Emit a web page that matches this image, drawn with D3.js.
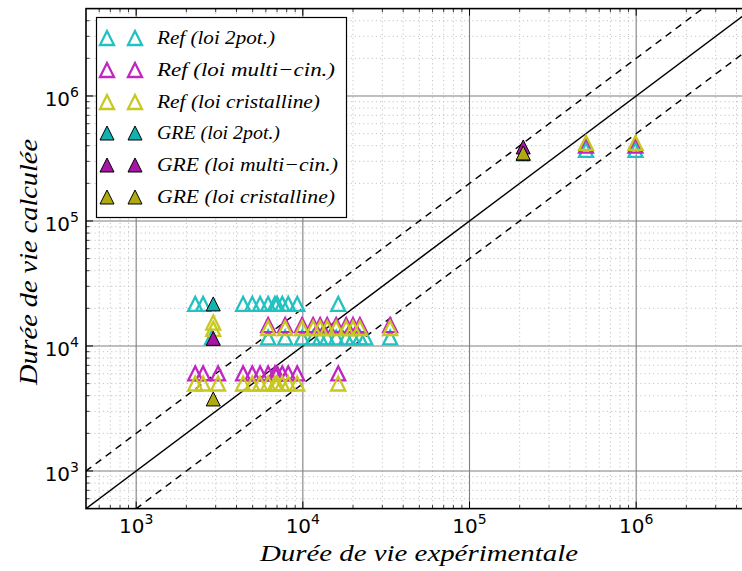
<!DOCTYPE html>
<html><head><meta charset="utf-8">
<script src="https://cdn.jsdelivr.net/npm/d3@7"></script>
<style>body{margin:0;background:#fff} svg{display:block}</style>
</head><body>
<svg id="c" width="742" height="571"></svg>
<script>
// ---- data ----
const xDomain = [500, 5e6];
const yDomain = [500, 5e6];
const tickValues = [1e3, 1e4, 1e5, 1e6];
const tickExponents = ["3", "4", "5", "6"];

const legendLabels = [
  "Ref (loi 2pot.)", "Ref (loi multi\u2212cin.)", "Ref (loi cristalline)",
  "GRE (loi 2pot.)", "GRE (loi multi\u2212cin.)", "GRE (loi cristalline)"
];

// Ref, loi 2pot.
const ref2potX = [2260, 2520, 4380, 4970, 5540, 6190, 6800, 7010, 7520, 8170, 9250, 16300,
                  2850, 6190, 7830, 9900, 11530, 12700, 14000, 15850, 18200, 20000, 22000, 23700, 33400,
                  500000, 990000];
const ref2potY = [21700, 21700, 21700, 21700, 21700, 21700, 21700, 21700, 21700, 21700, 21700, 21700,
                  11700, 11700, 11700, 11700, 11700, 11700, 11700, 11700, 11700, 11700, 11700, 11700, 11700,
                  370000, 370000];
// Ref, loi multi-cin.
const refMultiX = [2260, 2520, 3100, 4380, 4970, 5540, 6190, 6800, 7010, 7520, 8170, 9250, 16300,
                   6190, 7830, 9900, 11530, 12700, 14000, 15850, 18200, 20000, 22000, 33400,
                   500000, 990000];
const refMultiY = [6030, 6030, 6030, 6030, 6030, 6030, 6030, 6030, 6030, 6030, 6030, 6030, 6030,
                   14700, 14700, 14700, 14700, 14700, 14700, 14700, 14700, 14700, 14700, 14700,
                   400000, 400000];
// Ref, loi cristalline
const refCristX = [2260, 2520, 3100, 4380, 4970, 5540, 6190, 6800, 7010, 7520, 8170, 9250, 16300,
                   2900, 2900, 6190, 7830, 9900, 11530, 12700, 14000, 15850, 18200, 20000, 22000, 33400,
                   500000, 990000];
const refCristY = [5010, 5010, 5010, 5010, 5010, 5010, 5010, 5010, 5010, 5010, 5010, 5010, 5010,
                   15400, 13700, 13900, 13900, 13900, 13900, 13900, 13900, 13900, 13900, 13900, 13900, 13900,
                   421000, 421000];
// GRE
const gre2potX = [2900, 210000];
const gre2potY = [21700, 345000];
const greMultiX = [2900, 210000];
const greMultiY = [11500, 391000];
const greCristX = [2900, 210000];
const greCristY = [3770, 350000];

// ---- layout ----
const W = 742, H = 571;
const L = 86, T = 8.6, decX = 166.67, decY = 125;
const R = L + 4 * decX, B = T + 4 * decY;

const svg = d3.select("#c");
const x = d3.scaleLog().domain(xDomain).range([L, R]);
const y = d3.scaleLog().domain(yDomain).range([B, T]);

svg.append("defs").append("clipPath").attr("id", "clip")
  .append("rect").attr("x", L).attr("y", T).attr("width", R - L).attr("height", B - T);

const minor = [];
for (let e = 2; e <= 6; e++) for (let m = 2; m <= 9; m++) {
  const v = m * Math.pow(10, e);
  if (v > xDomain[0] && v < xDomain[1]) minor.push(v);
}

const plot = svg.append("g").attr("clip-path", "url(#clip)");
// minor grid
plot.selectAll(".mgx").data(minor).enter().append("line")
  .attr("x1", d => x(d)).attr("x2", d => x(d)).attr("y1", T).attr("y2", B)
  .attr("stroke", "#c4c4c4").attr("stroke-width", 1).attr("stroke-dasharray", "1.2,3");
plot.selectAll(".mgy").data(minor).enter().append("line")
  .attr("y1", d => y(d)).attr("y2", d => y(d)).attr("x1", L).attr("x2", R)
  .attr("stroke", "#c4c4c4").attr("stroke-width", 1).attr("stroke-dasharray", "1.2,3");
// major grid
plot.selectAll(".gx").data(tickValues).enter().append("line")
  .attr("x1", d => x(d)).attr("x2", d => x(d)).attr("y1", T).attr("y2", B)
  .attr("stroke", "#808080").attr("stroke-width", 1.1);
plot.selectAll(".gy").data(tickValues).enter().append("line")
  .attr("y1", d => y(d)).attr("y2", d => y(d)).attr("x1", L).attr("x2", R)
  .attr("stroke", "#808080").attr("stroke-width", 1.1);

// reference lines y = x, y = 2x, y = x/2
const diag = [xDomain[0] / 4, xDomain[1] * 4];
const line = d3.line().x(d => x(d[0])).y(d => y(d[1]));
[[1, null], [2, "7,5.5"], [0.5, "7,5.5"]].forEach(([k, dash]) => {
  plot.append("path").datum(diag.map(v => [v, v * k]))
    .attr("d", line).attr("fill", "none").attr("stroke", "#000")
    .attr("stroke-width", 1.5).attr("stroke-dasharray", dash);
});

// markers
const s = 7;
const tri = `M0,${-s}L${-s},${s}L${s},${s}Z`;
const series = [
  { xs: ref2potX, ys: ref2potY, fill: "none", stroke: "#22c2c2", sw: 2.3 },
  { xs: refMultiX, ys: refMultiY, fill: "none", stroke: "#c126c1", sw: 2.3 },
  { xs: refCristX, ys: refCristY, fill: "none", stroke: "#c8c820", sw: 2.3 },
  { xs: gre2potX, ys: gre2potY, fill: "#15b0b0", stroke: "#000", sw: 1 },
  { xs: greMultiX, ys: greMultiY, fill: "#a615a6", stroke: "#000", sw: 1 },
  { xs: greCristX, ys: greCristY, fill: "#b0aa12", stroke: "#000", sw: 1 }
];
series.forEach(sr => {
  plot.append("g").selectAll("path").data(sr.xs.map((v, i) => [v, sr.ys[i]])).enter()
    .append("path").attr("d", tri)
    .attr("transform", d => `translate(${x(d[0])},${y(d[1])})`)
    .attr("fill", sr.fill).attr("stroke", sr.stroke).attr("stroke-width", sr.sw)
    .attr("stroke-linejoin", "miter");
});

// ticks (inside, all sides)
const ax = svg.append("g");
const tk = (x1, y1, x2, y2, w) => ax.append("line").attr("x1", x1).attr("y1", y1)
  .attr("x2", x2).attr("y2", y2).attr("stroke", "#000").attr("stroke-width", w);
tickValues.forEach(v => {
  tk(x(v), B, x(v), B - 7, 1); tk(x(v), T, x(v), T + 7, 1);
  tk(L, y(v), L + 7, y(v), 1); tk(R, y(v), R - 7, y(v), 1);
});
minor.forEach(v => {
  tk(x(v), B, x(v), B - 3.5, 0.8); tk(x(v), T, x(v), T + 3.5, 0.8);
  tk(L, y(v), L + 3.5, y(v), 0.8); tk(R, y(v), R - 3.5, y(v), 0.8);
});
// frame
ax.append("rect").attr("x", L).attr("y", T).attr("width", R - L).attr("height", B - T)
  .attr("fill", "none").attr("stroke", "#000").attr("stroke-width", 1.6);

// tick labels
const tf = "'DejaVu Sans', sans-serif";
tickValues.forEach((v, i) => {
  const t = svg.append("text").attr("x", x(v)).attr("y", 533).attr("text-anchor", "middle")
    .attr("font-family", tf).attr("font-size", 20).attr("fill", "#000");
  t.append("tspan").text("10");
  t.append("tspan").attr("dy", -9).attr("font-size", 14).text(tickExponents[i]);
  const u = svg.append("text").attr("x", 79).attr("y", y(v) + 10).attr("text-anchor", "end")
    .attr("font-family", tf).attr("font-size", 20).attr("fill", "#000");
  u.append("tspan").text("10");
  u.append("tspan").attr("dy", -9).attr("font-size", 14).text(tickExponents[i]);
});

// axis labels
const sf = "'Liberation Serif', 'Times New Roman', serif";
svg.append("text").attr("x", 419).attr("y", 561).attr("text-anchor", "middle")
  .attr("font-family", sf).attr("font-style", "italic").attr("font-size", 23)
  .attr("textLength", 318).attr("lengthAdjust", "spacingAndGlyphs")
  .text("Durée de vie expérimentale");
svg.append("text").attr("transform", "translate(37,262) rotate(-90)").attr("text-anchor", "middle")
  .attr("font-family", sf).attr("font-style", "italic").attr("font-size", 25)
  .attr("textLength", 246).attr("lengthAdjust", "spacingAndGlyphs")
  .text("Durée de vie calculée");

// legend
const lg = svg.append("g");
lg.append("rect").attr("x", 96.5).attr("y", 17.5).attr("width", 250).attr("height", 200)
  .attr("fill", "#fff").attr("stroke", "#000").attr("stroke-width", 1.2);
const rowY = [38, 70, 102, 133, 165, 197];
const lw = [118, 178, 163, 123, 181, 178];
legendLabels.forEach((lab, i) => {
  const sr = series[i];
  [107, 135].forEach(mx => {
    lg.append("path").attr("d", tri).attr("transform", `translate(${mx},${rowY[i]})`)
      .attr("fill", sr.fill).attr("stroke", sr.stroke).attr("stroke-width", sr.sw);
  });
  lg.append("text").attr("x", 157).attr("y", rowY[i] + 6).attr("font-family", sf)
    .attr("font-style", "italic").attr("font-size", 19)
    .attr("textLength", lw[i]).attr("lengthAdjust", "spacingAndGlyphs").text(lab);
});
</script>
</body></html>
